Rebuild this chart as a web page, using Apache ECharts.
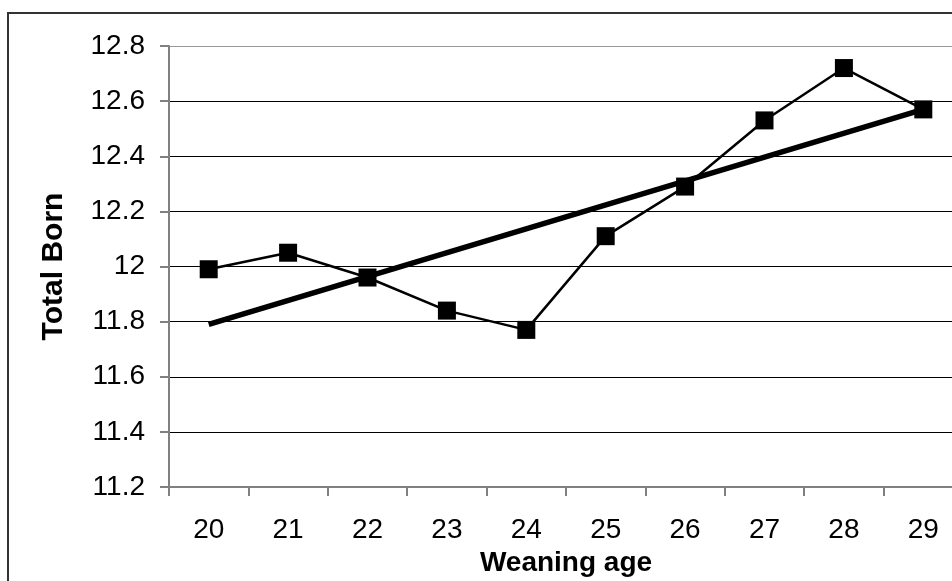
<!DOCTYPE html>
<html>
<head>
<meta charset="utf-8">
<script src="https://cdn.jsdelivr.net/npm/echarts@6/dist/echarts.min.js"></script>
<style>
html,body{margin:0;padding:0;background:#fff;}
#c{width:952px;height:581px;}
</style>
</head>
<body>
<div id="c"></div>
<script>
const categories = ['20','21','22','23','24','25','26','27','28','29'];
const totalBorn = [11.99, 12.05, 11.96, 11.84, 11.77, 12.11, 12.29, 12.53, 12.72, 12.57];
const trendLine = [11.79, null, null, null, null, null, null, null, null, 12.57];
const yTicks = [11.2, 11.4, 11.6, 11.8, 12, 12.2, 12.4, 12.6, 12.8];

const chart = echarts.init(document.getElementById('c'), null, {renderer:'canvas'});
const font = 'Liberation Sans, Arial, sans-serif';
chart.setOption({
  animation: false,
  backgroundColor: '#fff',
  graphic: [{
    type: 'rect',
    shape: {x: 8, y: 13, width: 1000, height: 700},
    style: {fill: 'none', stroke: '#333', lineWidth: 2},
    z: 0
  }],
  grid: {left: 169, top: 46, width: 794, height: 441, containLabel: false, outerBoundsMode: 'none'},
  xAxis: {
    type: 'category',
    data: categories,
    boundaryGap: true,
    name: 'Weaning age',
    nameLocation: 'middle',
    nameGap: 62,
    nameTextStyle: {fontFamily: font, fontSize: 28, fontWeight: 'bold', color: '#000'},
    axisLine: {lineStyle: {color: '#808080', width: 2}},
    axisTick: {show: true, interval: 0, length: 9, inside: false, lineStyle: {color: '#808080', width: 2}},
    axisLabel: {fontFamily: font, fontSize: 28, color: '#000', margin: 29, interval: 0},
    splitLine: {show: false}
  },
  yAxis: {
    type: 'value',
    min: 11.2,
    max: 12.8,
    interval: 0.2,
    name: 'Total Born',
    nameLocation: 'middle',
    nameGap: 100,
    nameTextStyle: {fontFamily: font, fontSize: 30, fontWeight: 'bold', color: '#000'},
    axisLine: {show: true, lineStyle: {color: '#808080', width: 2}},
    axisTick: {show: true, length: 9, lineStyle: {color: '#808080', width: 2}},
    axisLabel: {
      fontFamily: font, fontSize: 28, color: '#000', margin: 24,
      formatter: function (v) { const r = Math.round(v*10)/10; return yTicks.includes(r) ? String(r) : ''; }
    },
    splitLine: {show: true, lineStyle: {color: ['#000','#000','#000','#000','#000','#000','#000','#000','#999'], width: 1}}
  },
  series: [{
    type: 'line',
    data: totalBorn,
    symbol: 'rect',
    symbolSize: 18,
    itemStyle: {color: '#000'},
    lineStyle: {color: '#000', width: 2.5},
    z: 3
  }, {
    type: 'line',
    data: trendLine,
    connectNulls: true,
    symbol: 'none',
    showSymbol: false,
    lineStyle: {color: '#000', width: 5.5},
    z: 2
  }]
});
</script>
</body>
</html>
